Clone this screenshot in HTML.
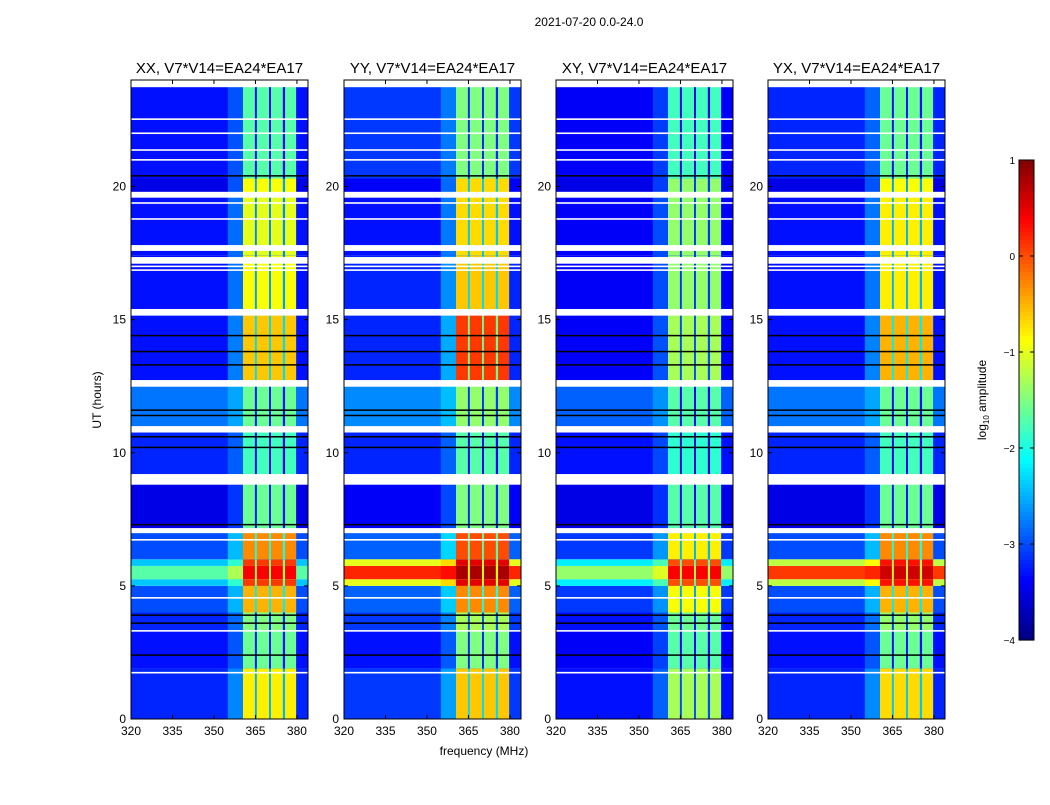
<!DOCTYPE html>
<html><head><meta charset="utf-8"><style>
body{margin:0;background:#fff;font-family:"Liberation Sans",sans-serif;}
svg text{font-family:"Liberation Sans",sans-serif;}
</style></head><body>
<svg id="fig" width="1050" height="800" viewBox="0 0 1050 800" xmlns="http://www.w3.org/2000/svg">
<rect width="1050" height="800" fill="#fff"/>
<text x="589" y="26" font-size="12" text-anchor="middle">2021-07-20 0.0-24.0</text>
<text x="484" y="755" font-size="12" text-anchor="middle">frequency (MHz)</text>
<text transform="translate(101,400) rotate(-90)" font-size="12" text-anchor="middle">UT (hours)</text>
<g id="panels"></g>
<g id="cbar"></g>
</svg>
<script>
const panelTitles=["XX, V7*V14=EA24*EA17","YY, V7*V14=EA24*EA17","XY, V7*V14=EA24*EA17","YX, V7*V14=EA24*EA17"];
const panelX=[131,344,556,768];
const segStart=[0,1.9,3.3,4.0,5.0,5.25,5.75,6.0,7.0,9.0,11.0,12.7,15.2,17.4,19.7,20.3];
const segEnd=[1.9,3.3,4.0,5.0,5.25,5.75,6.0,7.0,9.0,11.0,12.7,15.2,17.4,19.7,20.3,24];
const bgXX=[-3.2,-3.3,-3.2,-3.0,-2.4,-1.7,-2.4,-3.0,-3.5,-3.2,-2.8,-3.3,-3.3,-3.3,-3.5,-3.3];
const bandXX=[-0.8,-1.6,-1.5,-0.5,0.1,0.4,0.1,-0.3,-1.6,-1.8,-1.6,-0.6,-0.9,-1.0,-0.9,-1.7];
const bgYY=[-3.1,-3.3,-3.1,-2.9,-1.0,0.2,-1.0,-2.9,-3.4,-3.2,-2.7,-3.2,-3.2,-3.3,-3.4,-3.1];
const bandYY=[-0.6,-1.5,-1.3,-0.3,0.5,0.8,0.5,0.0,-1.5,-1.7,-1.4,0.1,-0.6,-0.7,-0.7,-1.5];
const bgXY=[-3.3,-3.4,-3.3,-3.1,-2.2,-1.4,-2.2,-3.1,-3.5,-3.3,-2.9,-3.4,-3.4,-3.4,-3.5,-3.4];
const bandXY=[-1.3,-1.7,-1.6,-0.9,0.0,0.4,0.0,-0.8,-1.7,-1.9,-1.7,-1.3,-1.4,-1.4,-1.4,-1.8];
const bgYX=[-3.2,-3.3,-3.2,-3.0,-1.2,0.1,-1.2,-3.0,-3.5,-3.2,-2.8,-3.3,-3.3,-3.3,-3.5,-3.2];
const bandYX=[-0.7,-1.6,-1.4,-0.5,0.3,0.6,0.3,-0.3,-1.6,-1.8,-1.6,-0.5,-0.8,-0.8,-0.9,-1.6];
const bgAll=[bgXX,bgYY,bgXY,bgYX], bandAll=[bandXX,bandYY,bandXY,bandYX];
const bandBlocks=[[360.5,364.8],[365.5,369.9],[370.6,374.9],[375.7,379.7]];
const flagStart=[23.73,22.5,21.97,21.34,20.97,19.58,19.35,18.75,17.58,17.1,16.97,16.83,15.15,12.48,10.76,8.8,6.98,6.7,4.52,3.28,1.71];
const flagEnd=[24,22.56,22.03,21.4,21.03,19.8,19.41,18.81,17.8,17.35,17.03,16.89,15.4,12.73,11.0,9.2,7.17,6.76,4.58,3.34,1.77];
const darkLines=[20.4,14.4,13.8,13.3,11.6,11.4,10.6,10.2,7.3,3.9,3.6,2.4];
const xTicks=[320,335,350,365,380];
const yTicks=[0,5,10,15,20];
const cbTicks=[1,0,-1,-2,-3,-4];
const NS="http://www.w3.org/2000/svg";
function mk(t,a,p){const e=document.createElementNS(NS,t);for(const k in a)e.setAttribute(k,a[k]);p.appendChild(e);return e;}
function jet(v){let x=(v+4)/5;x=Math.max(0,Math.min(1,x));
 const c=t=>Math.round(255*Math.max(0,Math.min(1,1.5-Math.abs(4*x-t))));
 return `rgb(${c(3)},${c(2)},${c(1)})`;}
const W=177,H=639,Y0=80,FMIN=320,FMAX=384;
const pg=document.getElementById('panels');
panelX.forEach((px,pi)=>{
 const g=mk('g',{},pg);
 
 
 const xs=f=>px+(f-FMIN)/(FMAX-FMIN)*W, ys=t=>Y0+H-t/24*H;
 const bg=bgAll[pi],band=bandAll[pi];
 segStart.forEach((s,i)=>{
  const y1=ys(segEnd[i]),y2=ys(s);
  let r=mk('rect',{x:xs(FMIN),y:y1,width:W,height:y2-y1,fill:jet(bg[i])},g);
  
  r=mk('rect',{x:xs(355),y:y1,width:xs(360.5)-xs(355),height:y2-y1,fill:jet((bg[i]*4+band[i])/5)},g);
  
  r=mk('rect',{x:xs(360.5),y:y1,width:xs(379.7)-xs(360.5),height:y2-y1,fill:jet(band[i]-1.7)},g);
  
  bandBlocks.forEach(b=>{
   const c=mk('rect',{x:xs(b[0]),y:y1,width:xs(b[1])-xs(b[0]),height:y2-y1,fill:jet(band[i])},g);
   
  });
 });
 darkLines.forEach(t=>{const l=mk('rect',{x:px,y:ys(t)-0.75,width:W,height:1.5,fill:'#000'},g);
  });
 flagStart.forEach((s,i)=>{const y1=ys(flagEnd[i]),y2=ys(s);
  const f=mk('rect',{x:px,y:y1,width:W,height:Math.max(1.5,y2-y1),fill:'#fff'},g);
  });
 const fr=mk('rect',{x:px,y:Y0,width:W,height:H,fill:'none',stroke:'#000','stroke-width':1},g);
 
 const tt=mk('text',{x:px+W/2,y:73,'font-size':15,'text-anchor':'middle'},g);tt.textContent=panelTitles[pi];
 
 xTicks.forEach(v=>{const x=xs(v);
  mk('line',{x1:x,x2:x,y1:Y0+H,y2:Y0+H-4,stroke:'#000'},g);mk('line',{x1:x,x2:x,y1:Y0,y2:Y0+4,stroke:'#000'},g);
  const t=mk('text',{x:x,y:Y0+H+16,'font-size':12,'text-anchor':'middle'},g);t.textContent=v;
  });
 yTicks.forEach(v=>{const y=ys(v);
  mk('line',{x1:px,x2:px+4,y1:y,y2:y,stroke:'#000'},g);mk('line',{x1:px+W,x2:px+W-4,y1:y,y2:y,stroke:'#000'},g);
  const t=mk('text',{x:px-5,y:y+4,'font-size':12,'text-anchor':'end'},g);t.textContent=v;
  });
});
const cb=document.getElementById('cbar');
const CX=1019,CW=15,CY=160,CH=480;
for(let i=0;i<120;i++){const v=1-5*(i+0.5)/120;
 const r=mk('rect',{x:CX,y:CY+i*CH/120,width:CW,height:CH/120+0.6,fill:jet(v)},cb);
 }
mk('rect',{x:CX,y:CY,width:CW,height:CH,fill:'none',stroke:'#000'},cb);
cbTicks.forEach(v=>{const y=CY+(1-v)/5*CH;
 mk('line',{x1:CX,x2:CX+4,y1:y,y2:y,stroke:'#000'},cb);mk('line',{x1:CX+CW,x2:CX+CW-4,y1:y,y2:y,stroke:'#000'},cb);
 const t=mk('text',{x:CX-4,y:y+4,'font-size':10,'text-anchor':'end'},cb);t.textContent=(v<0?'\u2212'+(-v):v);
 });
const ct=mk('text',{transform:'translate(986,400) rotate(-90)','font-size':12,'text-anchor':'middle'},cb);

ct.innerHTML='log<tspan font-size="8" dy="3">10</tspan><tspan dy="-3"> amplitude</tspan>';
</script>
</body></html>
